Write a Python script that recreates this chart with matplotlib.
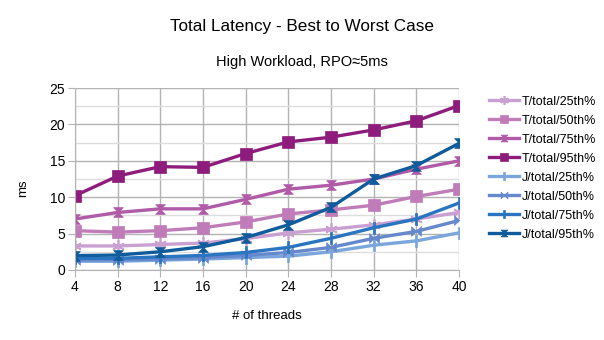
import matplotlib.pyplot as plt
from matplotlib.path import Path
from matplotlib.ticker import MultipleLocator

plt.rcParams["font.family"] = ["Liberation Sans", "DejaVu Sans"]

threads = [4, 8, 12, 16, 20, 24, 28, 32, 36, 40]

t_25 = [3.3, 3.3, 3.5, 3.7, 4.3, 5.1, 5.6, 6.2, 7.0, 7.9]
t_50 = [5.4, 5.2, 5.4, 5.8, 6.6, 7.7, 8.25, 8.9, 10.1, 11.1]
t_75 = [7.0, 7.9, 8.4, 8.4, 9.7, 11.1, 11.65, 12.5, 13.85, 15.0]
t_95 = [10.2, 12.9, 14.2, 14.1, 16.0, 17.6, 18.25, 19.25, 20.5, 22.6]
j_25 = [1.2, 1.2, 1.35, 1.5, 1.7, 1.9, 2.5, 3.4, 4.0, 5.1]
j_50 = [1.4, 1.4, 1.5, 1.7, 2.0, 2.4, 3.1, 4.35, 5.3, 6.8]
j_75 = [1.6, 1.6, 1.8, 2.0, 2.4, 3.1, 4.35, 5.8, 7.0, 9.2]
j_95 = [1.97, 2.05, 2.5, 3.2, 4.45, 6.2, 8.6, 12.5, 14.35, 17.4]

labels = ["T/total/25th%", "T/total/50th%", "T/total/75th%", "T/total/95th%",
          "J/total/25th%", "J/total/50th%", "J/total/75th%", "J/total/95th%"]
series = [t_25, t_50, t_75, t_95, j_25, j_50, j_75, j_95]
colors = ["#c9a0d1", "#c07cb9", "#b05aa8", "#8e1c7c",
          "#7aa6dc", "#6688cc", "#2a75c0", "#0f5b9b"]

# custom marker shapes
hourglass = Path([(-1, 1), (1, 1), (-1, -1), (1, -1), (-1, 1)],
                 [Path.MOVETO, Path.LINETO, Path.LINETO, Path.LINETO, Path.CLOSEPOLY])
bowtie = Path([(-1, 1), (-1, -1), (1, 1), (1, -1), (-1, 1)],
              [Path.MOVETO, Path.LINETO, Path.LINETO, Path.LINETO, Path.CLOSEPOLY])
vbar = Path([(-0.25, 1), (0.25, 1), (0.25, -1), (-0.25, -1), (-0.25, 1)],
            [Path.MOVETO, Path.LINETO, Path.LINETO, Path.LINETO, Path.CLOSEPOLY])
markers = [(6, 2, 0), "s", hourglass, "s", vbar, bowtie, vbar, hourglass]
sizes = [9, 8.5, 7, 8.5, 8, 7, 8, 7]

fig = plt.figure(figsize=(6.04, 3.4), dpi=100)
ax = fig.add_axes([0.124, 0.206, 0.636, 0.535])

for ys, lab, col, mk, ms in zip(series, labels, colors, markers, sizes):
    ax.plot(threads, ys, color=col, lw=2.4, marker=mk, markersize=ms,
            markeredgewidth=1.2 if mk == (6, 2, 0) else 0.5, label=lab)

ax.set_xlim(4, 40)
ax.set_ylim(0, 25)
ax.set_xticks(threads)
ax.yaxis.set_major_locator(MultipleLocator(5))
ax.yaxis.set_minor_locator(MultipleLocator(2.5))
ax.grid(which="major", color="#b3b3b3", lw=1)
ax.grid(which="minor", axis="y", color="#dddddd", lw=1)
ax.set_axisbelow(True)
for side in ["top", "right"]:
    ax.spines[side].set_visible(False)
for side in ["left", "bottom"]:
    ax.spines[side].set_color("#b3b3b3")
ax.tick_params(which="major", length=5, color="#b3b3b3", labelsize=10, pad=2)
ax.tick_params(which="minor", length=0)

ax.set_xlabel("# of threads", fontsize=9.5, labelpad=12)
ax.set_ylabel("ms", fontsize=9.5)
ax.yaxis.set_label_coords(-0.12, 0.45)

fig.text(0.5, 1 - 26 / 340, "Total Latency - Best to Worst Case", ha="center",
         va="center", fontsize=12.3)
fig.text(0.5, 1 - 62 / 340, "High Workload, RPO\u22485ms", ha="center",
         va="center", fontsize=10.5)

ax.legend(loc="upper left", bbox_to_anchor=(1.065, 0.985), frameon=False,
          fontsize=9, handlelength=2.4, handletextpad=0.25, labelspacing=0.56,
          markerscale=0.7, borderaxespad=0)

fig.savefig("out.png", dpi=100)
